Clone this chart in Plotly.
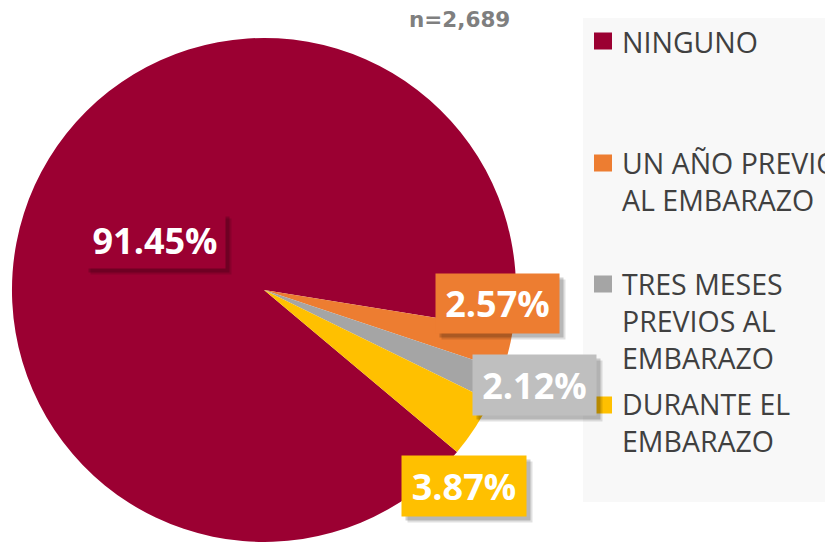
import plotly.graph_objects as go

# ---- data ----
labels = ["NINGUNO", "UN AÑO PREVIO AL EMBARAZO", "TRES MESES PREVIOS AL EMBARAZO", "DURANTE EL EMBARAZO"]
legend_lines = [["NINGUNO"], ["UN AÑO PREVIO", "AL EMBARAZO"], ["TRES MESES", "PREVIOS AL", "EMBARAZO"], ["DURANTE EL", "EMBARAZO"]]
values = [91.45, 2.57, 2.12, 3.87]
sample_note = "n=2,689"

# ---- styles ----
colors = ["#9B0032", "#ED7D31", "#A5A5A5", "#FFC000"]
label_bg = ["#9B0032", "#ED7D31", "#BFBFBF", "#FFC000"]
W, H = 825, 542

fig = go.Figure()
fig.add_trace(go.Pie(
    labels=labels, values=values, sort=False, direction="clockwise", rotation=130,
    marker=dict(colors=colors, line=dict(width=0)),
    textinfo="none", hoverinfo="label+percent", showlegend=False,
    domain=dict(x=[0.0, 0.64], y=[0.0, 0.93]),
))

def px(x, y):
    return x / W, 1 - y / H

# label boxes (center x, center y, width, height)
label_boxes = [(155, 240.5, 140, 55), (497.5, 303, 123, 59), (534, 385, 123, 60), (464.5, 486, 124, 60)]
annotations = []
shapes = []
for v, bg, (cx, cy, w, h) in zip(values, label_bg, label_boxes):
    x, y = px(cx, cy)
    for sh, a in [(6, 0.12), (4, 0.18)]:
        annotations.append(dict(x=x, y=y, xref="paper", yref="paper", xanchor="center", yanchor="middle",
                                text=" ", showarrow=False, width=w, height=h, borderpad=0,
                                bgcolor=f"rgba(0,0,0,{a})", xshift=sh, yshift=-sh))
    annotations.append(dict(x=x, y=y, xref="paper", yref="paper", xanchor="center", yanchor="middle",
                            text=f"<b>{v:.2f}%</b>", showarrow=False, width=w, height=h, borderpad=0,
                            bgcolor=bg, font=dict(family="Open Sans", size=36, color="white")))

# n note
x, y = px(459, 19.5)
annotations.append(dict(x=x, y=y, xref="paper", yref="paper", xanchor="center", yanchor="middle",
                        text=f"<b>{sample_note}</b>", showarrow=False,
                        font=dict(family="DejaVu Sans", size=21.5, color="#7F7F7F")))

# legend panel
x0, y0 = px(583, 18)
x1, y1 = px(830, 502)
shapes.append(dict(type="rect", xref="paper", yref="paper", x0=x0, x1=x1, y0=y1, y1=y0,
                   fillcolor="#F8F8F8", line=dict(width=0), layer="below"))
sw_y = [41, 163, 284, 405]
txt_y = [42, 181.5, 320.5, 422.5]
for lines, c, sy, ty in zip(legend_lines, colors, sw_y, txt_y):
    a0, b0 = px(594, sy - 8.5)
    a1, b1 = px(612, sy + 8.5)
    shapes.append(dict(type="rect", xref="paper", yref="paper", x0=a0, x1=a1, y0=b1, y1=b0,
                       fillcolor=c, line=dict(width=0)))
    tx, tyy = px(620, ty)
    annotations.append(dict(x=tx, y=tyy, xref="paper", yref="paper", xanchor="left", yanchor="middle",
                            align="left", text="<br>".join(lines), showarrow=False,
                            font=dict(family="Open Sans", size=28.5, color="#404040")))

fig.update_layout(
    width=W, height=H, margin=dict(l=0, r=0, t=0, b=0),
    paper_bgcolor="white", plot_bgcolor="white",
    annotations=annotations, shapes=shapes, showlegend=False,
)
fig.write_html("out.html", config={"displayModeBar": False},
               post_script="document.body.style.margin='0';document.body.style.overflow='hidden';")
